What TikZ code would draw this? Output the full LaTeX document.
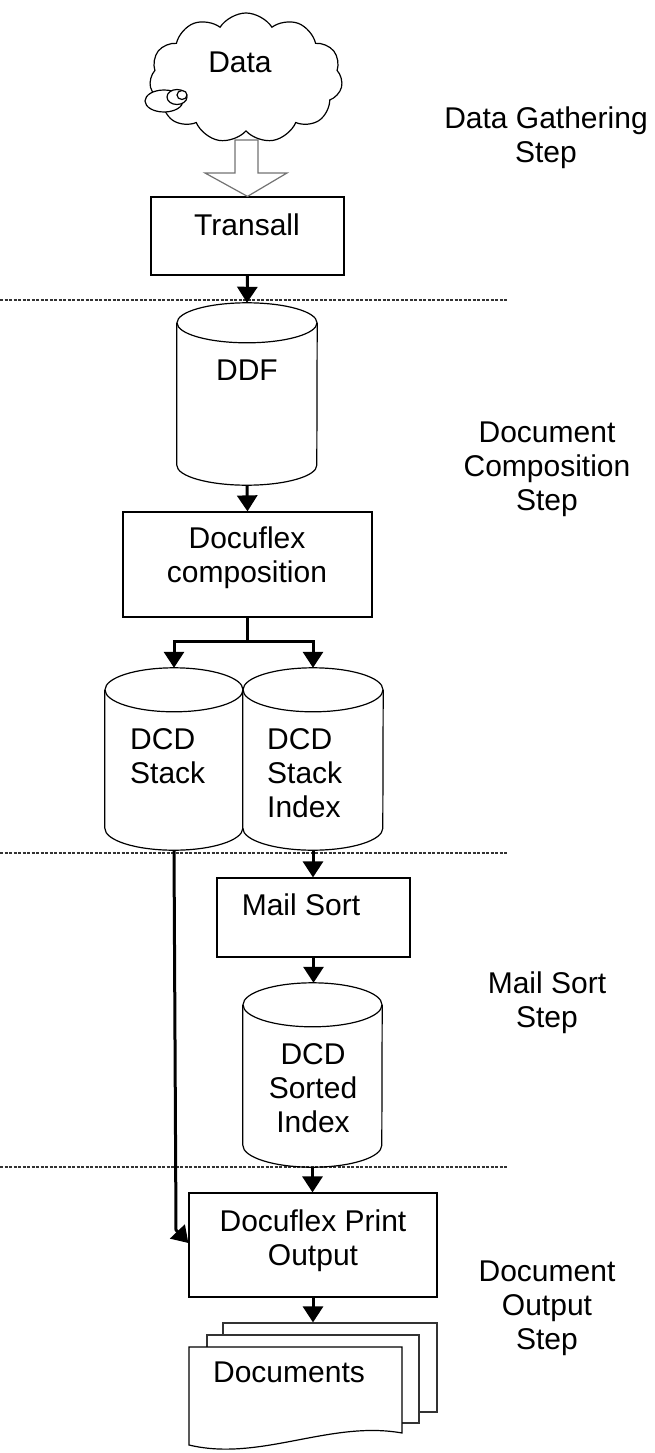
\documentclass[tikz,border=0pt]{standalone}
\usepackage{fontspec}
\setmainfont{Liberation Sans}
\usetikzlibrary{arrows.meta,shapes.symbols,calc}
\newcommand{\cylshape}[3]{%
  \fill[white] ($(#1.north west)+(0,-#3)$) rectangle ($(#1.south east)+(0,#3)$);
  \draw[outline] ($(#1.north)+(0,-#3)$) ellipse[x radius=#2, y radius=#3];
  \draw[outline] ($(#1.north west)+(0,-#3)$) -- ($(#1.south west)+(0,#3)$)
     arc[start angle=180, end angle=360, x radius=#2, y radius=#3] -- ($(#1.north east)+(0,-#3)$);
}
\begin{document}
\begin{tikzpicture}[x=1pt,y=1pt,
  font=\fontsize{30}{34}\selectfont,
  outline/.style={line width=1.2pt},
  box/.style={draw, line width=1.2pt, inner sep=0pt, fill=white},
  cylnode/.style={inner sep=0pt},
  txt/.style={inner sep=0pt, align=center},
  conn/.style={line width=3pt, line join=miter, -{Triangle[width=20pt,length=16pt]}},
  sep/.style={line width=1.5pt, dash pattern=on 3pt off 1.5pt, black!80}]
\useasboundingbox (0,0) rectangle (655,-1453);

% separators
\draw[sep] (0,-300) -- (508,-300);
\draw[sep] (0,-853) -- (508,-853);
\draw[sep] (0,-1167) -- (508,-1167);

% boxes
\node[box, minimum width=193pt, minimum height=78pt] (transall) at (247.5,-236) {};
\node[box, minimum width=249pt, minimum height=105pt] (comp) at (247.5,-564.5) {};
\node[box, minimum width=193pt, minimum height=79pt] (mailsort) at (313.5,-917.5) {};
\node[box, minimum width=248pt, minimum height=104pt] (print) at (313,-1245) {};

% block arrow from cloud
\draw[outline, draw=black!55, fill=white] (235,-140) -- (258,-140) -- (258,-173) -- (287,-173)
   -- (transall.north) -- (205,-173) -- (235,-173) -- cycle;

% cloud
\node[cloud, draw, outline, fill=white, cloud puffs=11, cloud puff arc=115, aspect=1.5,
      minimum width=193pt, minimum height=130pt, inner sep=0pt] (data) at (246,-78) {};
\draw[outline, fill=white] (164,-101) ellipse[x radius=19, y radius=11];
\draw[outline, fill=white] (177,-97) ellipse[x radius=10, y radius=7.5];
\draw[outline, fill=white] (182,-95) ellipse[x radius=5, y radius=4.5];
\node[txt] (dataT) at (240,-62) {Data};

% cylinders
\node[cylnode, minimum width=140pt, minimum height=182pt] (ddf) at (247,-394) {};
\node[cylnode, minimum width=138pt, minimum height=182pt] (stack) at (174,-759) {};
\node[cylnode, minimum width=140pt, minimum height=182pt] (index) at (313,-759) {};
\node[cylnode, minimum width=139pt, minimum height=184pt] (sorted) at (312.5,-1075) {};
\cylshape{ddf}{70}{20}
\cylshape{stack}{69}{22}
\cylshape{index}{70}{22}
\cylshape{sorted}{69.5}{22}

% documents
\node[box, draw=black!80, minimum width=214pt, minimum height=89pt] (docback) at (330,-1367.5) {};
\node[box, draw=black!80, minimum width=212pt, minimum height=88pt] (docmid) at (313,-1379) {};
\draw[outline, fill=white] (189,-1347) -- (402,-1347) -- (402,-1433)
   .. controls (330,-1420) and (260,-1462) .. (189,-1445) -- cycle;

% texts
\node[txt] (transallT) at (247,-225) {Transall};
\node[txt] (ddfT) at (247,-370) {DDF};
\node[txt] (compT) at (247,-558) {Docuflex\\composition};
\node[txt, align=left, anchor=west] (stackT) at (130,-756) {DCD\\Stack};
\node[txt, align=left, anchor=west] (indexT) at (267,-773) {DCD\\Stack\\Index};
\node[txt] (mailsortT) at (301,-905) {Mail Sort};
\node[txt] (sortedT) at (313,-1088) {DCD\\Sorted\\Index};
\node[txt] (printT) at (313,-1241) {Docuflex Print\\Output};
\node[txt] (docsT) at (289,-1372) {Documents};

% step labels
\node[txt] (step1) at (546,-138) {Data Gathering\\Step};
\node[txt] (step2) at (547,-469) {Document\\Composition\\Step};
\node[txt] (step3) at (547,-1003) {Mail Sort\\Step};
\node[txt] (step4) at (547,-1308) {Document\\Output\\Step};

% connectors
\draw[conn] (transall.south) -- (ddf.north);
\draw[conn] (ddf.south) -- (comp.north);
\draw[conn] (comp.south) -- ++(0,-24) -| (stack.north);
\draw[conn] (comp.south) -- ++(0,-24) -| (index.north);
\draw[conn] (index.south) -- (index.south |- mailsort.north);
\draw[conn] (mailsort.south) -- (mailsort.south |- sorted.north);
\draw[conn] (sorted.south) -- (sorted.south |- print.north);
\coordinate (turn) at (176,-1230);
\draw[conn] (stack.south) -- (turn) -- ($(print.west)+(0,2)$);
\draw[conn] (print.south) -- (print.south |- docback.north);
\end{tikzpicture}
\end{document}
